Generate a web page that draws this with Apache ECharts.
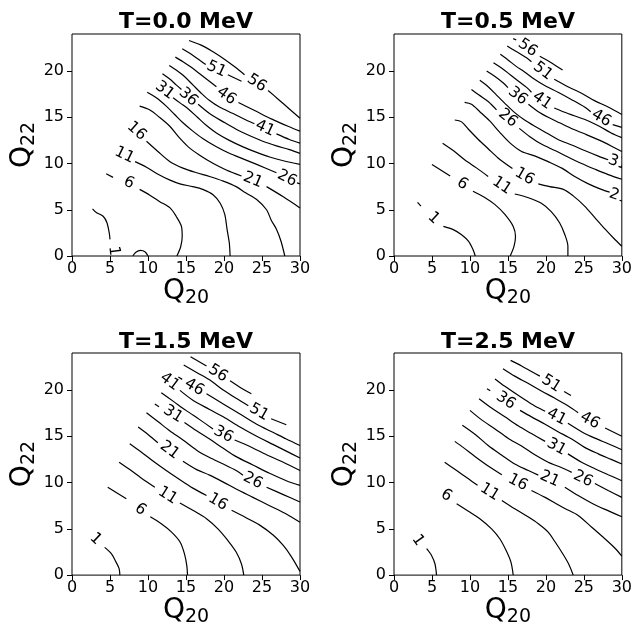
<!DOCTYPE html>
<html>
<head>
<meta charset="utf-8">
<script src="https://cdn.jsdelivr.net/npm/echarts@6/dist/echarts.min.js"></script>
<style>html,body{margin:0;padding:0;background:#fff}#c{width:635px;height:628px}</style>
</head>
<body>
<div id="c"></div>
<script>
// ---- data ----
const titles = ['T=0.0 MeV', 'T=0.5 MeV', 'T=1.5 MeV', 'T=2.5 MeV'];
const xTicks = [0, 5, 10, 15, 20, 25, 30];
const yTicks = [0, 5, 10, 15, 20];
// each contour: [level label, label position [Q20,Q22], list of polyline pieces]
const contoursT00 = [
  ['56', [24.3, 18.7], [[[15.4,23.3],[17.0,22.8],[18.5,22.1],[20.0,21.3],[21.5,20.4],[22.7,19.6]], [[25.8,17.9],[27.2,16.9],[28.6,15.9],[30,14.9]]]],
  ['51', [19.0, 20.2], [[[14.5,22.4],[15.7,21.8],[16.9,21.1],[17.6,20.7]], [[20.5,19.6],[22.3,18.9]]]],
  ['46', [20.3, 17.3], [[[13.6,21.5],[14.6,21.0],[15.7,20.4],[16.8,19.7],[17.9,19.0],[19.0,18.3]], [[21.9,16.6],[24.1,15.7],[26.3,14.8],[28.5,14.0],[30,13.5]]]],
  ['41', [25.4, 13.8], [[[12.8,20.6],[13.7,20.1],[14.8,19.4],[15.9,18.5],[17.0,17.6],[18.1,16.8],[19.4,16.1],[21.2,15.4],[22.9,14.7],[24.0,14.3]], [[26.9,13.2],[28.6,12.6],[30,12.2]]]],
  ['36', [15.3, 17.2], [[[11.9,19.7],[12.9,19.1],[13.7,18.5],[14.4,18.0]], [[16.6,16.4],[18.1,15.4],[19.9,14.5],[21.6,13.7],[23.4,13.0],[25.1,12.4],[26.9,11.9],[28.6,11.5],[30,11.1]]]],
  ['31', [12.2, 17.9], [[[13.3,17.1],[14.3,16.5],[15.3,15.9],[16.5,15.0],[17.7,14.1],[19.0,13.3],[20.7,12.5],[22.5,11.8],[24.3,11.2],[26.0,10.7],[27.8,10.3],[30,9.9]]]],
  ['26', [28.3, 8.4], [[[9.9,17.7],[11.1,17.1],[12.4,16.2],[13.5,15.3],[14.6,14.4],[15.9,13.5],[17.2,12.7],[19.0,11.8],[20.7,11.1],[22.5,10.5],[24.3,9.9],[26.9,9.0]], [[29.6,7.9],[30,7.8]]]],
  ['21', [23.8, 8.2], [[[8.9,16.2],[10.2,15.8],[11.5,15.0],[12.9,14.0],[14.0,12.9],[15.3,11.8],[16.8,10.9],[18.6,10.0],[20.3,9.3],[22.3,8.65]], [[25.6,7.5],[27.8,6.4],[30,5.2]]]],
  ['16', [8.5, 13.5], [[[9.8,12.4],[11.3,11.3],[12.9,10.2],[14.6,9.5],[16.4,9.0],[18.1,8.6],[19.9,8.1],[21.6,7.5],[22.9,6.8],[24.3,6.1],[25.6,5.0],[26.2,3.9],[26.9,2.9],[27.5,1.6],[28.0,0]]]],
  ['11', [6.9, 10.9], [[[8.3,10.2],[9.8,9.6],[11.2,8.9],[12.9,8.2],[14.2,7.8],[15.9,7.5],[17.2,7.2],[18.6,6.6],[19.5,5.7],[20.1,4.5],[20.4,2.9],[20.7,1.4],[20.8,0]]]],
  ['6', [7.5, 7.9], [[[4.5,8.9],[5.4,8.5]], [[8.9,7.2],[10.2,6.6],[11.5,5.9],[12.9,5.2],[13.7,4.3],[14.4,3.2],[14.5,2.1],[14.3,1.0],[13.8,0]]]],
  ['1', [5.5, 0.55], [[[2.7,5.1],[3.2,4.7],[4.1,4.3],[4.6,3.6],[4.9,2.5],[5.0,1.8]], [[8.0,0],[8.4,0.4],[9.0,0.6],[9.6,0.45],[10.0,0]]]]
];
const contoursT05 = [
  ['56', [17.6, 22.5], [[[15.7,23.5],[16.1,23.35]], [[19.2,21.6],[20.7,20.9],[22.2,20.1]]]],
  ['51', [19.6, 20.0], [[[14.9,22.7],[16.1,22.1],[17.5,21.4],[18.1,21.0]], [[21.1,19.1],[22.9,18.3],[24.7,17.6],[26.4,16.8],[28.2,16.1],[30,15.3]]]],
  ['46', [27.3, 14.9], [[[14.0,21.8],[15.0,21.2],[16.1,20.5],[17.2,19.9],[18.5,19.1],[19.9,18.4],[21.6,17.7],[23.4,16.9],[25.1,16.1],[25.9,15.6]], [[28.8,14.2],[30,13.9]]]],
  ['41', [19.5, 16.8], [[[13.1,20.9],[14.2,20.3],[15.3,19.6],[16.4,18.9],[17.5,18.2],[18.1,17.7]], [[21.1,16.0],[22.9,15.4],[25.3,14.7],[27.1,14.0],[28.6,13.3],[30,12.8]]]],
  ['36', [16.3, 17.3], [[[12.2,20.0],[13.3,19.4],[14.4,18.7],[15.0,18.2]], [[17.7,16.4],[19.0,15.6],[20.3,15.0],[21.8,14.4],[23.6,13.7],[25.4,13.1],[27.1,12.5],[28.6,11.9],[30,11.3]]]],
  ['31', [29.5, 10.1], [[[11.3,19.0],[12.4,18.3],[13.5,17.4],[14.6,16.5],[15.9,15.5],[17.2,14.7],[18.6,14.0],[20.1,13.3],[21.6,12.6],[23.4,12.0],[25.1,11.4],[26.9,10.8],[28.2,10.4]]]],
  ['26', [15.0, 14.9], [[[10.2,18.0],[11.2,17.4],[12.4,16.7],[13.5,15.8]], [[16.5,13.8],[17.9,12.9],[19.4,12.1],[21.2,11.4],[22.9,10.7],[24.7,10.0],[26.4,9.4],[28.2,8.8],[30,8.3]]]],
  ['21', [29.6, 6.45], [[[9.3,16.6],[10.2,16.4],[11.3,15.6],[12.6,14.6],[13.9,13.4],[15.3,12.2],[16.8,11.3],[18.6,10.8],[20.3,10.2],[22.1,9.5],[23.8,8.6],[25.6,7.8],[27.3,7.2],[28.4,6.9]]]],
  ['16', [17.2, 8.6], [[[8.0,14.7],[8.9,14.5],[9.8,13.7],[11.1,12.6],[12.4,11.6],[13.7,10.6],[15.6,9.45]], [[19.0,7.8],[20.5,7.5],[22.3,7.2],[23.6,6.5],[25.1,5.4],[26.5,4.1],[27.8,2.9],[28.9,1.95],[30,1.05]]]],
  ['11', [14.2, 7.6], [[[6.4,12.2],[7.8,11.4],[9.3,10.4],[10.9,9.5],[12.4,8.6]], [[15.9,6.7],[17.7,6.3],[19.4,5.7],[20.7,4.8],[21.8,3.6],[22.5,2.3],[22.9,1.05],[22.9,0]]]],
  ['6', [9.0, 7.8], [[[5.0,9.9],[7.4,8.65]], [[10.4,7.0],[12.0,6.3],[13.3,5.55],[14.6,4.5],[15.7,3.2],[16.0,2.1],[15.8,1.05],[15.3,0]]]],
  ['1', [5.2, 4.1], [[[3.1,5.8],[3.55,5.4]], [[6.5,3.2],[7.8,2.85],[8.9,2.3],[9.8,1.6],[10.4,0.7],[10.7,0]]]]
];
const contoursT15 = [
  ['56', [19.2, 21.8], [[[15.6,23.6],[17.7,22.6]], [[20.8,21.0],[22.3,20.2],[23.6,19.6]]]],
  ['51', [24.6, 17.6], [[[14.7,22.7],[16.4,21.9],[18.1,21.1],[19.9,20.0],[21.6,19.1],[23.2,18.3]], [[26.2,16.9],[28.2,16.25]]]],
  ['46', [16.1, 20.3], [[[14.0,21.4],[14.5,21.15]], [[17.7,19.6],[19.9,18.5],[22.1,17.4],[24.3,16.3],[26.5,15.4],[28.2,14.7],[30,14.0]]]],
  ['41', [12.85, 20.9], [[[14.2,19.96],[15.9,18.9],[18.1,17.9],[19.9,17.1],[22.1,16.0],[24.3,15.0],[26.5,14.1],[28.2,13.4],[30,12.65]]]],
  ['36', [19.9, 15.2], [[[11.75,19.7],[13.3,18.8],[15.0,17.8],[16.8,16.8],[18.55,15.8]], [[21.4,14.6],[23.4,13.9],[25.6,13.0],[27.8,12.2],[30,11.3]]]],
  ['31', [13.3, 17.4], [[[10.9,18.5],[11.45,18.2]], [[14.8,16.5],[16.4,15.6],[18.1,14.7],[19.9,13.7],[21.6,12.8],[23.8,11.9],[26.0,11.0],[28.2,10.2],[30,9.7]]]],
  ['26', [23.8, 10.2], [[[9.8,17.55],[11.3,16.6],[12.85,15.6],[14.6,14.6],[16.4,13.5],[18.1,12.7],[19.9,12.0],[21.6,11.3],[22.5,10.8]], [[25.6,9.5],[27.8,8.7],[30,7.9]]]],
  ['21', [12.85, 13.5], [[[8.7,16.0],[10.0,15.2],[11.3,14.3]], [[14.6,12.3],[16.4,11.4],[18.1,10.8],[19.9,10.05],[21.6,9.3],[23.8,8.4],[26.0,7.5],[28.2,6.6],[30,5.7]]]],
  ['16', [19.2, 7.9], [[[7.6,14.2],[9.1,13.3],[10.7,12.3],[12.4,11.3],[14.2,10.3],[15.9,9.4],[17.7,8.6]], [[21.0,7.0],[22.9,6.2],[24.7,5.4],[26.5,4.3],[27.8,3.2],[28.9,1.95],[30,0.4]]]],
  ['11', [12.6, 8.6], [[[6.2,12.2],[7.6,11.4],[9.1,10.5],[10.9,9.5]], [[14.2,7.8],[15.9,7.0],[17.7,6.1],[19.2,5.0],[20.5,3.75],[21.6,2.5],[22.3,1.2],[22.6,0]]]],
  ['6', [9.0, 7.1], [[[4.7,9.5],[7.15,8.25]], [[10.3,6.3],[11.75,5.55],[13.1,4.65],[14.2,3.6],[14.8,2.3],[15.1,1.05],[15.2,0]]]],
  ['1', [3.1, 3.9], [[[4.3,3.0],[5.2,2.3],[5.8,1.4],[6.2,0.7],[6.3,0]]]]
];
const contoursT25 = [
  ['51', [20.7, 20.7], [[[15.35,23.2],[16.8,22.6],[18.1,22.0],[19.2,21.5]], [[22.4,19.85],[23.3,19.4]]]],
  ['46', [25.8, 16.7], [[[14.35,22.3],[15.9,21.5],[17.7,20.7],[19.4,19.9],[21.2,19.1],[22.9,18.3],[24.25,17.55]], [[27.8,15.9],[30,15.0]]]],
  ['41', [21.4, 17.1], [[[13.3,21.2],[14.6,20.4],[16.4,19.4],[18.1,18.5],[19.9,17.7]], [[22.9,16.4],[24.7,15.5],[26.45,14.8],[28.2,14.2],[30,13.55]]]],
  ['36', [14.7, 18.85], [[[12.24,20.14],[12.68,19.93]], [[16.6,17.8],[18.1,17.1],[19.9,16.3],[21.6,15.5],[23.4,14.7],[25.1,13.8],[26.9,13.1],[28.6,12.5],[30,12.0]]]],
  ['31', [21.4, 13.85], [[[11.2,19.06],[12.85,18.05],[14.6,17.1],[16.4,16.1],[18.1,15.3],[19.9,14.45]], [[22.9,13.1],[24.7,12.2],[26.45,11.5],[28.2,10.85],[30,10.2]]]],
  ['26', [24.9, 10.4], [[[10.0,17.8],[11.5,16.8],[13.3,15.8],[15.0,14.8],[16.8,13.95],[18.55,13.0],[20.3,12.2],[22.1,11.6],[23.4,11.1]], [[26.45,9.9],[28.2,9.15],[30,8.4]]]],
  ['21', [20.5, 10.4], [[[9.0,16.2],[10.7,15.2],[12.4,14.0],[14.2,12.95],[15.9,12.0],[17.7,11.3],[19.0,10.8]], [[22.5,9.5],[24.25,8.6],[26.0,7.8],[27.8,7.1],[30,6.3]]]],
  ['16', [16.3, 10.0], [[[8.0,14.45],[9.1,13.8],[10.7,12.8],[12.4,11.8],[14.2,10.85]], [[18.1,9.15],[19.9,8.4],[21.2,7.8],[22.5,7.2],[24.25,6.45],[26.0,5.2],[27.8,3.9],[29.1,2.9],[30,2.05]]]],
  ['11', [12.6, 8.97], [[[6.67,12.2],[8.25,11.3],[9.8,10.4],[11.0,9.7]], [[14.2,8.07],[15.9,7.17],[17.7,6.27],[19.0,5.55],[20.3,4.65],[21.2,3.6],[22.3,2.2],[23.0,1.2],[23.6,0]]]],
  ['6', [6.9, 8.6], [[[8.25,7.7],[9.8,6.9],[11.3,6.1],[12.85,5.0],[13.95,3.9],[14.8,2.6],[15.4,1.4],[15.7,0]]]],
  ['1', [3.16, 3.75], [[[4.3,2.85],[4.96,2.1],[5.4,1.2],[5.6,0]]]]
];
const panelContours = [contoursT00, contoursT05, contoursT15, contoursT25];

// ---- layout ----
const grids = [
  {left: 72, top: 34, width: 228, height: 222},
  {left: 394, top: 34, width: 228, height: 222},
  {left: 72, top: 353, width: 228, height: 223},
  {left: 394, top: 353, width: 228, height: 223}
];
const FONT = 'DejaVu Sans';
const nameRich = {
  q: {fontSize: 28, fontFamily: FONT, color: '#000', lineHeight: 32},
  s: {fontSize: 19, fontFamily: FONT, color: '#000', lineHeight: 12, verticalAlign: 'bottom'}
};

// direction (in data space) used to orient each inline label along its line
function labelDir(c) {
  const at = c[1];
  const ends = [];
  c[2].forEach((seg, si) => {
    const n = seg.length;
    ends.push({si, pt: seg[0], nb: seg[Math.min(1, n - 1)]});
    ends.push({si, pt: seg[n - 1], nb: seg[Math.max(n - 2, 0)]});
  });
  const d = p => Math.hypot(p[0] - at[0], p[1] - at[1]);
  ends.sort((a, b) => d(a.pt) - d(b.pt));
  const e1 = ends[0];
  const e2 = ends.find(e => e.si !== e1.si && d(e.pt) < 2.4);
  return e2 ? [e1.pt, e2.pt] : [e1.nb, e1.pt];
}

const xAxes = [], yAxes = [], series = [];
grids.forEach((g, i) => {
  xAxes.push({
    gridIndex: i, type: 'value', min: 0, max: 30, interval: 5,
    axisLine: {show: false}, splitLine: {show: false},
    axisTick: {show: true, length: 5, lineStyle: {color: '#000', width: 1}, customValues: xTicks},
    axisLabel: {fontSize: 16, color: '#000', fontFamily: FONT, margin: 5, customValues: xTicks},
    name: '{q|Q}{s|20}', nameLocation: 'middle', nameGap: 15,
    nameTextStyle: {rich: nameRich}
  });
  yAxes.push({
    gridIndex: i, type: 'value', min: 0, max: 24, interval: 5,
    axisLine: {show: false}, splitLine: {show: false},
    axisTick: {show: true, length: 5, lineStyle: {color: '#000', width: 1}, customValues: yTicks},
    axisLabel: {fontSize: 16, color: '#000', fontFamily: FONT, margin: 8, customValues: yTicks},
    name: '{q|Q}{s|22}', nameLocation: 'middle', nameGap: 33, nameRotate: 90,
    nameTextStyle: {rich: nameRich}
  });
  const cs = panelContours[i];
  cs.forEach(c => {
    c[2].forEach(seg => {
      series.push({
        type: 'line', xAxisIndex: i, yAxisIndex: i, data: seg,
        symbol: 'none', smooth: 0.3, silent: true, clip: true,
        lineStyle: {color: '#000', width: 1.2}
      });
    });
  });
  const dirs = cs.map(labelDir);
  series.push({
    type: 'custom', xAxisIndex: i, yAxisIndex: i, clip: true, silent: true,
    data: cs.map((c, k) => [c[1][0], c[1][1], k]),
    renderItem: function (params, api) {
      const k = api.value(2);
      const p = api.coord([api.value(0), api.value(1)]);
      const a = api.coord(dirs[k][0]), b = api.coord(dirs[k][1]);
      let dx = b[0] - a[0], dy = b[1] - a[1];
      if (dx < 0) { dx = -dx; dy = -dy; }
      return {
        type: 'text', x: p[0], y: p[1], rotation: -Math.atan2(dy, dx),
        style: {text: cs[k][0], fontSize: 15.5, fontFamily: FONT, fill: '#000', align: 'center', verticalAlign: 'middle'}
      };
    }
  });
});

const titleY = [22, 22, 342, 342];
const chart = echarts.init(document.getElementById('c'), null, {renderer: 'canvas'});
chart.setOption({
  animation: false,
  backgroundColor: '#fff',
  textStyle: {fontFamily: FONT},
  grid: grids.map(g => Object.assign({show: true, borderColor: '#000', borderWidth: 1, backgroundColor: 'transparent'}, g)),
  xAxis: xAxes,
  yAxis: yAxes,
  graphic: grids.map((g, i) => ({
    type: 'text', x: g.left + g.width / 2, y: titleY[i],
    style: {text: titles[i], fontSize: 22, fontWeight: 'bold', fontFamily: FONT, fill: '#000', align: 'center', verticalAlign: 'middle'}
  })),
  series: series
});
</script>
</body>
</html>
